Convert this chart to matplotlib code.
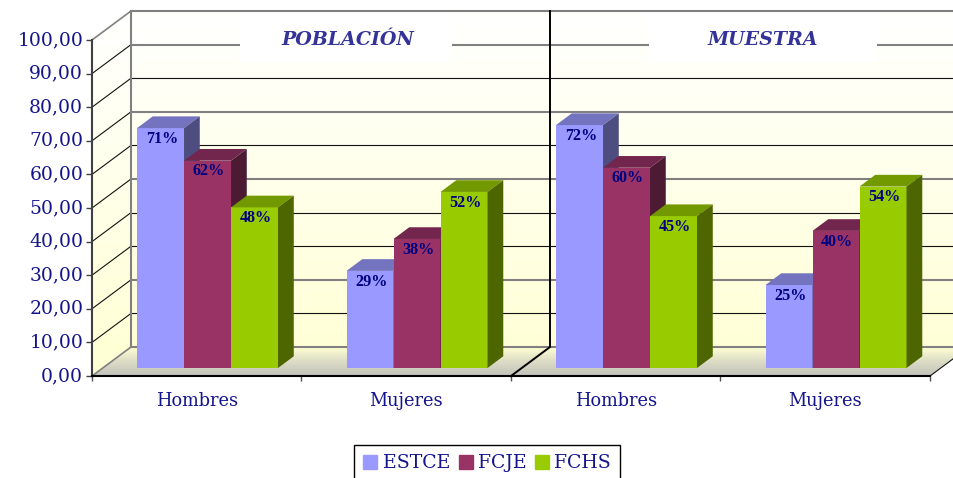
import numpy as np
import matplotlib
matplotlib.use("Agg")
import matplotlib.pyplot as plt
from matplotlib.colors import LinearSegmentedColormap, to_rgb
from matplotlib.patches import Patch, Polygon, Rectangle
from matplotlib.transforms import ScaledTranslation

# values
categories = ["Hombres", "Mujeres", "Hombres", "Mujeres"]
series_names = ["ESTCE", "FCJE", "FCHS"]
estce = [71.4, 28.9, 72.3, 24.7]
fcje = [61.7, 38.4, 59.6, 40.8]
fchs = [47.8, 52.4, 45.2, 54.0]
estce_labels = ["71%", "29%", "72%", "25%"]
fcje_labels = ["62%", "38%", "60%", "40%"]
fchs_labels = ["48%", "52%", "45%", "54%"]
y_ticks = [0, 10, 20, 30, 40, 50, 60, 70, 80, 90, 100]
panel_titles = ["POBLACIÓN", "MUESTRA"]

W, H = 954, 478
PX_X, PX_Y = 209.5, 3.36     # pixels per category / per 1 value
LEFT_PX, ZERO_PX = 92, 376

DX, DY = 39 / PX_X, 29 / PX_Y     # depth of the 3D box in data units
Z0, Z1 = 0.276, 0.68              # bars sit in this slice of the depth
BAR_W = 47 / PX_X
THICK_LEVELS = [0, 20, 50, 70, 90, 100]

NAVY = "#14148c"
BLUE = "#9999FF"
PLUM = "#993366"
LIME = "#99CC00"
colors = [BLUE, PLUM, LIME]


def shade(col, f):
    return tuple(v * f for v in to_rgb(col))


fig = plt.figure(figsize=(W / 100, H / 100), dpi=100)
ax = fig.add_axes([0, 0, 1, 1])
xlim = (-LEFT_PX / PX_X, (W - LEFT_PX) / PX_X)
ylim = ((ZERO_PX - H) / PX_Y, ZERO_PX / PX_Y)
n = len(categories)

# walls and floor
wall_cmap = LinearSegmentedColormap.from_list("wall", ["#FFFFFF", "#FFFFD3"])
floor_cmap = LinearSegmentedColormap.from_list("floor", ["#C2C2BA", "#DCDCC6", "#FFFFD3"])
img = ax.imshow(np.linspace(0, 1, 256).reshape(-1, 1), cmap=wall_cmap, aspect="auto",
                extent=(0, n + DX, 0, 100 + DY), zorder=0)
wall = Polygon([(0, 0), (DX, DY), (n + DX, DY), (n + DX, 100 + DY), (DX, 100 + DY), (0, 100)],
               transform=ax.transData, fc="none", ec="none")
ax.add_patch(wall)
img.set_clip_path(wall)
img2 = ax.imshow(np.linspace(1, 0, 256).reshape(-1, 1), cmap=floor_cmap, aspect="auto",
                 extent=(0, n + DX, 0, DY), zorder=0.5, vmin=0, vmax=1)
floor = Polygon([(0, 0), (DX, DY), (n + DX, DY), (n, 0)],
                transform=ax.transData, fc="none", ec="none")
ax.add_patch(floor)
img2.set_clip_path(floor)

# grid on the back wall and the left side wall
for v in y_ticks:
    thick = v in THICK_LEVELS
    ax.plot([DX, n + DX], [v + DY, v + DY], color="#808080" if thick else "#111111",
            lw=1.5 if thick else 0.8, zorder=1)
    side = "#808080" if v in (0, 100) else "#111111"
    ax.plot([0, DX], [v, v + DY], color=side, lw=1.2 if v in (0, 100) else 0.8, zorder=1)
ax.plot([DX, DX], [DY, 100 + DY], color="#808080", lw=1.5, zorder=1)
ax.plot([n, n + DX], [0, DY], color="#111111", lw=0.8, zorder=1)

# white boxes behind the panel titles
ax.add_patch(Rectangle((0.706, 93.5), 1.012, 14.5, fc="white", ec="none", zorder=1.5))
ax.add_patch(Rectangle((2.659, 93.5), 1.088, 14.5, fc="white", ec="none", zorder=1.5))

# divider between the two panels
ax.plot([2, 2 + DX, 2 + DX], [0, DY, 100 + DY], color="black", lw=1.4, zorder=1.8)

# bars
all_values = [estce, fcje, fchs]
all_labels = [estce_labels, fcje_labels, fchs_labels]
z = 3
for g in range(n):
    start = g + 0.5 - 1.5 * BAR_W + Z0 * DX
    base = Z0 * DY
    for s in range(3):
        h = all_values[s][g]
        col = colors[s]
        x0 = start + s * BAR_W
        x1 = x0 + BAR_W
        ddx = (Z1 - Z0) * DX
        ddy = (Z1 - Z0) * DY
        ax.bar(x0, h, BAR_W, bottom=base, align="edge", color=col, lw=0, zorder=z, antialiased=False)
        ax.add_patch(Polygon([(x0, base + h), (x1, base + h), (x1 + ddx, base + h + ddy),
                              (x0 + ddx, base + h + ddy)], fc=shade(col, 0.75), ec="none", zorder=z))
        ax.add_patch(Polygon([(x1, base), (x1 + ddx, base + ddy), (x1 + ddx, base + h + ddy),
                              (x1, base + h)], fc=shade(col, 0.5), ec="none", zorder=z))
        z += 1
for g in range(n):
    start = g + 0.5 - 1.5 * BAR_W + Z0 * DX
    for s in range(3):
        ax.text(start + (s + 0.5) * BAR_W + 0.006, Z0 * DY + all_values[s][g] - 3.2, all_labels[s][g],
                family="Liberation Serif", weight="bold", fontsize=11.6, color="#000080",
                ha="center", va="center", zorder=50)

# panel titles
ax.text(1.22, 100, panel_titles[0], family="DejaVu Serif", style="italic", weight="bold",
        fontsize=13.7, color="#333399", ha="center", va="center", zorder=60)
ax.text(3.203, 100, panel_titles[1], family="DejaVu Serif", style="italic", weight="bold",
        fontsize=13.7, color="#333399", ha="center", va="center", zorder=60)

# axes
ax.set_xlim(xlim)
ax.set_ylim(ylim)
ax.patch.set_alpha(0)
for name in ("top", "right"):
    ax.spines[name].set_visible(False)
ax.spines["left"].set_position(("data", 0))
ax.spines["left"].set_bounds(0, 100)
ax.spines["left"].set_color("#404040")
ax.spines["left"].set_linewidth(1.5)
ax.spines["bottom"].set_position(("data", 0))
ax.spines["bottom"].set_bounds(0, n)
ax.spines["bottom"].set_color("black")
ax.spines["bottom"].set_linewidth(1.5)
ax.set_yticks(y_ticks)
ax.set_yticklabels(["%d,00" % v for v in y_ticks], family="DejaVu Serif", fontsize=13.5, color=NAVY)
ax.tick_params(axis="y", length=4.3, width=1, color="#404040", pad=2)
# labels sit a little above their ticks in the original
lift = ScaledTranslation(0, 2 / 100, fig.dpi_scale_trans)
for lbl in ax.get_yticklabels():
    lbl.set_transform(lbl.get_transform() + lift)
ax.set_xticks(range(n + 1))
ax.set_xticklabels([])
ax.tick_params(axis="x", which="major", length=3.8, width=1, color="#505050")
ax.set_xticks(np.arange(n) + 0.5, minor=True)
ax.set_xticklabels(categories, minor=True, family="DejaVu Serif", fontsize=12.8, color=NAVY)
ax.tick_params(axis="x", which="minor", length=0, pad=11.5)

# legend, cut off by the lower edge like in the original
handles = [Patch(color=c, label=name) for c, name in zip(colors, series_names)]
leg = ax.legend(handles=handles, ncol=3, loc="upper left", bbox_to_anchor=(354 / W, 1 - 445 / H),
                bbox_transform=fig.transFigure, borderaxespad=0, fancybox=False, framealpha=1,
                edgecolor="black", borderpad=0.5, handlelength=0.74, handleheight=0.74,
                handletextpad=0.28, columnspacing=0.45, prop={"family": "DejaVu Serif", "size": 13.6})
for t in leg.get_texts():
    t.set_color(NAVY)
leg.get_frame().set_linewidth(1)
leg.set_zorder(70)

fig.savefig("out.png", dpi=100)
